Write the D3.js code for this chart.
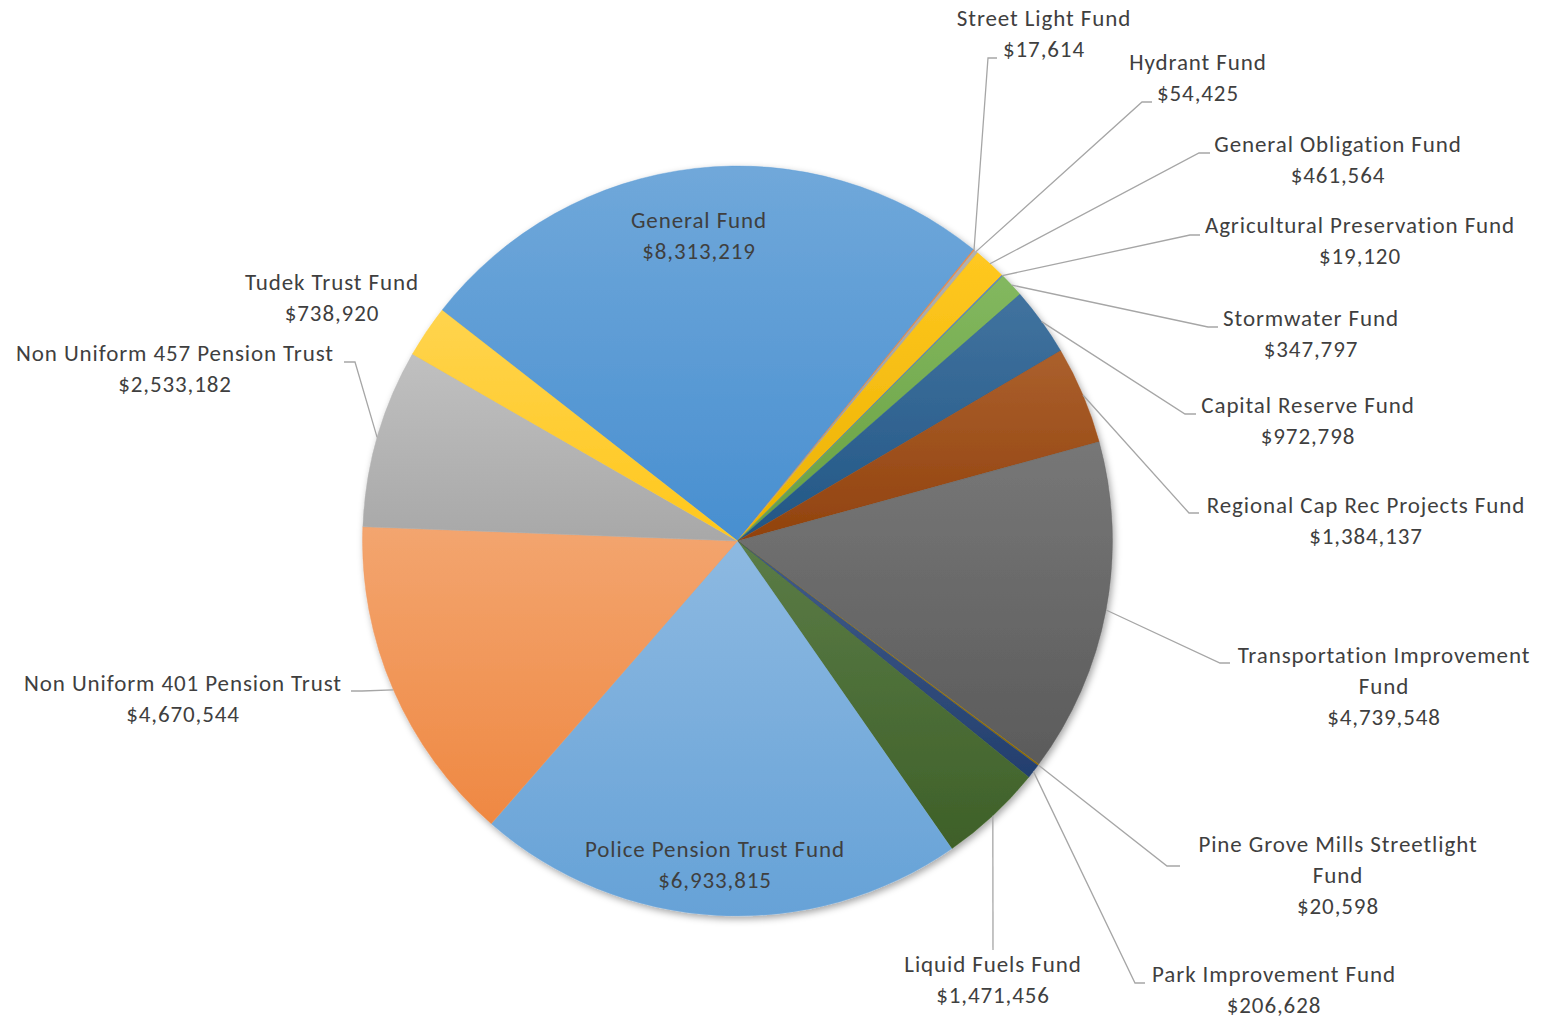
<!DOCTYPE html>
<html>
<head>
<meta charset="utf-8">
<script src="https://cdn.jsdelivr.net/npm/d3@7"></script>
<style>
  html, body { margin: 0; padding: 0; background: #fff; }
  svg { display: block; }
  text { font-family: Carlito, Calibri, Lato, "Open Sans", sans-serif; fill: #3f3f3f; }
</style>
</head>
<body>
<svg id="chart" width="1545" height="1021"></svg>
<script>
// ---------- data ----------
const categories = [
  "General Fund", "Street Light Fund", "Hydrant Fund", "General Obligation Fund",
  "Agricultural Preservation Fund", "Stormwater Fund", "Capital Reserve Fund",
  "Regional Cap Rec Projects Fund", "Transportation Improvement Fund",
  "Pine Grove Mills Streetlight Fund", "Park Improvement Fund", "Liquid Fuels Fund",
  "Police Pension Trust Fund", "Non Uniform 401 Pension Trust",
  "Non Uniform 457 Pension Trust", "Tudek Trust Fund"
];
const values = [
  8313219, 17614, 54425, 461564, 19120, 347797, 972798, 1384137, 4739548,
  20598, 206628, 1471456, 6933815, 4670544, 2533182, 738920
];
const colors = [
  "#5B9BD5", "#ED7D31", "#A5A5A5", "#FFC000", "#4472C4", "#70AD47", "#255E91",
  "#9E480E", "#636363", "#997300", "#264478", "#43682B", "#7CAFDD", "#F1975A",
  "#B7B7B7", "#FFCD33"
];
// label text lines (name may wrap)
const labelLines = [
  ["General Fund"], ["Street Light Fund"], ["Hydrant Fund"], ["General Obligation Fund"],
  ["Agricultural Preservation Fund"], ["Stormwater Fund"], ["Capital Reserve Fund"],
  ["Regional Cap Rec Projects Fund"], ["Transportation Improvement", "Fund"],
  ["Pine Grove Mills Streetlight", "Fund"], ["Park Improvement Fund"], ["Liquid Fuels Fund"],
  ["Police Pension Trust Fund"], ["Non Uniform 401 Pension Trust"],
  ["Non Uniform 457 Pension Trust"], ["Tudek Trust Fund"]
];

// ---------- layout ----------
const W = 1545, H = 1021;
const cx = 737.5, cy = 541, R = 375;
const startAngle = -52 * Math.PI / 180;
const lineH = 31;
// label layout: text centre x, first line centre y, leader elbow and end (null = no leader)
const labelLayout = [
  { x: 699,  y: 220, leader: null },
  { x: 1044, y: 18,  leader: [[988, 58], [997, 58]] },
  { x: 1198, y: 62,  leader: [[1142, 102], [1152, 102]] },
  { x: 1338, y: 144, leader: [[1199, 153], [1210, 153]] },
  { x: 1360, y: 225, leader: [[1190, 235], [1200, 235]] },
  { x: 1311, y: 318, leader: [[1208, 327], [1218, 327]] },
  { x: 1308, y: 405, leader: [[1185, 414], [1196, 414]] },
  { x: 1366, y: 505, leader: [[1189, 513], [1199, 513]] },
  { x: 1384, y: 655, leader: [[1220, 663], [1230, 663]] },
  { x: 1338, y: 844, leader: [[1167, 866], [1180, 866]] },
  { x: 1274, y: 974, leader: [[1135, 983], [1145, 983]] },
  { x: 993,  y: 964, leader: [[993, 950]] },
  { x: 715,  y: 849, leader: null },
  { x: 183,  y: 683, leader: [[362, 691], [351, 691]] },
  { x: 175,  y: 353, leader: [[355, 362], [344, 362]] },
  { x: 332,  y: 282, leader: null }
];

const fmt = d3.format("$,");

const svg = d3.select("#chart");
const defs = svg.append("defs");

// soft outer shadow
const f = defs.append("filter").attr("id", "shadow")
  .attr("x", "-10%").attr("y", "-10%").attr("width", "120%").attr("height", "120%");
f.append("feDropShadow").attr("dx", 2).attr("dy", 3).attr("stdDeviation", 3.5)
  .attr("flood-color", "#000").attr("flood-opacity", 0.35);

// gradients (lighter top, darker bottom)
colors.forEach((c, i) => {
  const g = defs.append("linearGradient").attr("id", "grad" + i)
    .attr("x1", 0).attr("y1", 0).attr("x2", 0).attr("y2", 1);
  const top = d3.interpolateRgb(c, "#fff")(0.13);
  const bh = d3.hsl(c);
  bh.l = bh.l * 0.92;
  g.append("stop").attr("offset", "0%").attr("stop-color", top);
  g.append("stop").attr("offset", "100%").attr("stop-color", bh.formatHex());
});

const data = categories.map((name, i) => ({ name, value: values[i], i }));

const pie = d3.pie().value(d => d.value).sort(null)
  .startAngle(startAngle).endAngle(startAngle + 2 * Math.PI);
const arcs = pie(data);

const arc = d3.arc().innerRadius(0).outerRadius(R);

const g = svg.append("g").attr("transform", `translate(${cx},${cy})`);
g.append("g").attr("filter", "url(#shadow)")
  .selectAll("path").data(arcs).join("path")
  .attr("d", arc)
  .attr("fill", d => `url(#grad${d.data.i})`)
  .attr("stroke", d => colors[d.data.i])
  .attr("stroke-width", 0.4);

// leader lines
const leaders = svg.append("g").attr("fill", "none").attr("stroke", "#A6A6A6").attr("stroke-width", 1.3);
arcs.forEach((a, i) => {
  const L = labelLayout[i];
  if (!L.leader) return;
  const m = (a.startAngle + a.endAngle) / 2;
  const p0 = [cx + R * Math.sin(m), cy - R * Math.cos(m)];
  leaders.append("path").attr("d", d3.line()([p0, ...L.leader]));
});

// labels
const labels = svg.append("g").attr("font-size", 23).attr("letter-spacing", 0.9)
  .attr("text-anchor", "middle");
arcs.forEach((a, i) => {
  const L = labelLayout[i];
  const lines = labelLines[i].concat([fmt(values[i])]);
  const t = labels.append("text");
  lines.forEach((s, k) => {
    t.append("tspan").attr("x", L.x).attr("y", L.y + k * lineH)
      .attr("dominant-baseline", "central").text(s);
  });
});
</script>
</body>
</html>
